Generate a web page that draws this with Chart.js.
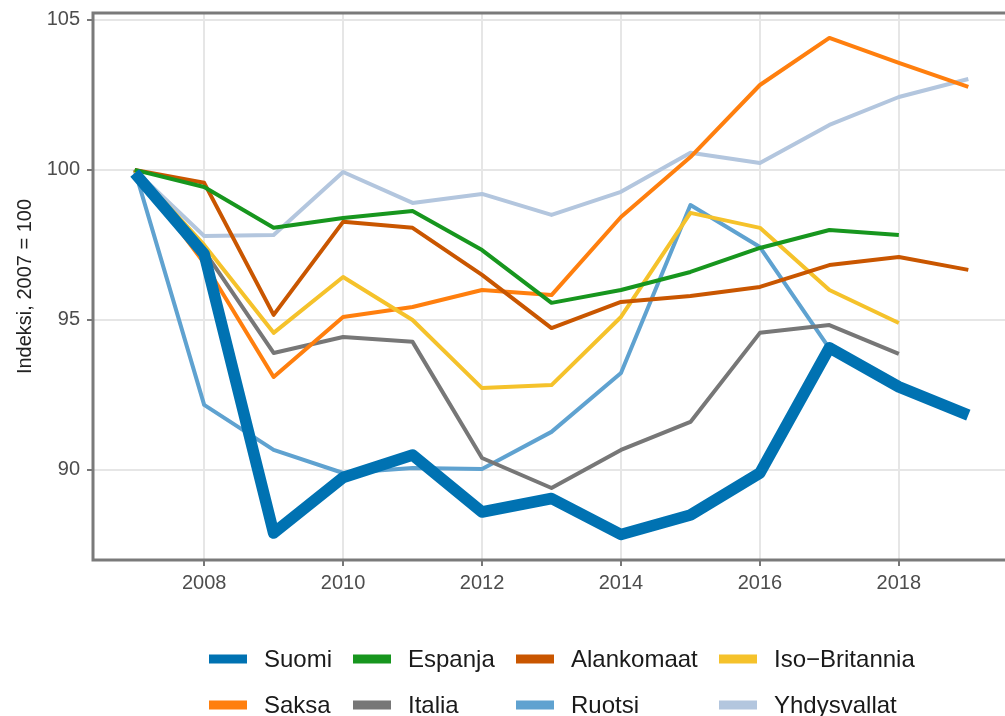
<!DOCTYPE html>
<html>
<head>
<meta charset="utf-8">
<script src="https://cdn.jsdelivr.net/npm/chart.js@4.4.1/dist/chart.umd.min.js"></script>
<style>
  html, body { margin: 0; padding: 0; background: #fff; overflow: hidden; }
  #wrap { position: relative; width: 1010px; height: 716px; }
</style>
</head>
<body>
<div id="wrap"><canvas id="c"></canvas></div>
<script>
// ---- Data ----
const years = [2007, 2008, 2009, 2010, 2011, 2012, 2013, 2014, 2015, 2016, 2017, 2018, 2019];
const suomi       = [99.9, 97.2, 87.9, 89.75, 90.5, 88.6, 89.05, 87.85, 88.5, 89.9, 94.07, 92.77, 91.83];
const espanja     = [100, 99.43, 98.07, 98.4, 98.63, 97.33, 95.57, 96.0, 96.6, 97.4, 98.0, 97.83, null];
const alankomaat  = [100, 99.57, 95.17, 98.27, 98.07, 96.5, 94.73, 95.6, 95.8, 96.1, 96.83, 97.1, 96.67];
const isoBritannia= [100, 97.5, 94.57, 96.43, 95.0, 92.73, 92.83, 95.1, 98.57, 98.07, 96.0, 94.9, null];
const saksa       = [100, 96.9, 93.1, 95.1, 95.43, 96.0, 95.83, 98.43, 100.43, 102.83, 104.4, 103.57, 102.77];
const italia      = [100, 97.3, 93.9, 94.43, 94.27, 90.4, 89.4, 90.67, 91.6, 94.57, 94.83, 93.87, null];
const ruotsi      = [100, 92.17, 90.67, 89.9, 90.07, 90.03, 91.27, 93.23, 98.83, 97.43, 94.05, null, null];
const yhdysvallat = [100, 97.8, 97.83, 99.93, 98.9, 99.2, 98.5, 99.27, 100.57, 100.23, 101.5, 102.43, 103.03];

const seriesNames = ["Suomi", "Espanja", "Alankomaat", "Iso\u2212Britannia", "Saksa", "Italia", "Ruotsi", "Yhdysvallat"];
const xTicks = [2008, 2010, 2012, 2014, 2016, 2018];
const yTicks = [90, 95, 100, 105];
const yTitle = "Indeksi, 2007 = 100";

// ---- Styles ----
const colors = ["#0072B2", "#17961E", "#C95600", "#F5C22B", "#FF7F0E", "#777777", "#5FA2D0", "#B3C6DE"];
const widths = [11.5, 4, 4, 4, 4, 4, 4, 4];
const allSeries = [suomi, espanja, alankomaat, isoBritannia, saksa, italia, ruotsi, yhdysvallat];
const FONT = "'Liberation Sans', Arial, Helvetica, sans-serif";

const toPoints = arr => years.map((y, i) => ({ x: y, y: arr[i] })).filter(p => p.y !== null);

const datasets = allSeries.map((arr, i) => ({
  label: seriesNames[i],
  data: toPoints(arr),
  borderColor: colors[i],
  backgroundColor: colors[i],
  borderWidth: widths[i],
  pointRadius: 0,
  pointHoverRadius: 0,
  tension: 0,
  fill: false,
  borderJoinStyle: 'round',
  borderCapStyle: 'butt'
}));

// Panel border + custom legend
const panelPlugin = {
  id: 'panel',
  afterDraw(chart) {
    const { ctx, chartArea: a } = chart;
    ctx.save();
    ctx.strokeStyle = '#7a7a7a';
    ctx.lineWidth = 3;
    ctx.strokeRect(a.left, a.top, a.right - a.left, a.bottom - a.top);

    // Legend (2 rows x 4 columns)
    const colX = [209, 353, 516, 719];
    const rowY = [659, 705];
    ctx.font = '24px ' + FONT;
    ctx.textBaseline = 'middle';
    ctx.textAlign = 'left';
    chart.data.datasets.forEach((ds, i) => {
      const col = i % 4, row = Math.floor(i / 4);
      const x = colX[col], y = rowY[row];
      ctx.fillStyle = ds.borderColor;
      ctx.fillRect(x, y - 4.5, 38, 9);
      ctx.fillStyle = '#1a1a1a';
      ctx.fillText(ds.label, x + 55, y + 1);
    });
    ctx.restore();
  }
};

const zeroPad = s => { s.paddingTop = 0; s.paddingBottom = 0; s.paddingLeft = 0; s.paddingRight = 0; };

new Chart(document.getElementById('c'), {
  type: 'line',
  data: { datasets },
  plugins: [panelPlugin],
  options: {
    responsive: true,
    maintainAspectRatio: false,
    animation: false,
    events: [],
    layout: { padding: { top: 13, left: 0, right: 0, bottom: 0 } },
    plugins: { legend: { display: false }, tooltip: { enabled: false } },
    scales: {
      x: {
        type: 'linear',
        min: 2006.4,
        max: 2019.6,
        afterBuildTicks: s => { s.ticks = xTicks.map(v => ({ value: v })); },
        afterFit: s => { s.height = 156; zeroPad(s); },
        grid: { color: '#e6e6e6', lineWidth: 2, tickColor: '#777', tickLength: 6, tickWidth: 2 },
        border: { display: false },
        ticks: {
          font: { family: FONT, size: 20 },
          color: '#4d4d4d',
          padding: 5,
          maxRotation: 0,
          autoSkip: false,
          callback: v => String(v)
        }
      },
      y: {
        type: 'linear',
        min: 87.0,
        max: 105.23,
        afterBuildTicks: s => { s.ticks = yTicks.map(v => ({ value: v })); },
        afterFit: s => { s.width = 93; zeroPad(s); },
        grid: { color: '#e6e6e6', lineWidth: 2, tickColor: '#777', tickLength: 6, tickWidth: 2 },
        border: { display: false },
        ticks: {
          font: { family: FONT, size: 20 },
          color: '#4d4d4d',
          padding: 7,
          autoSkip: false,
          callback: v => String(v)
        },
        title: {
          display: true,
          text: yTitle,
          font: { family: FONT, size: 20 },
          color: '#222',
          padding: { top: 13, bottom: 0 }
        }
      }
    }
  }
});
</script>
</body>
</html>
